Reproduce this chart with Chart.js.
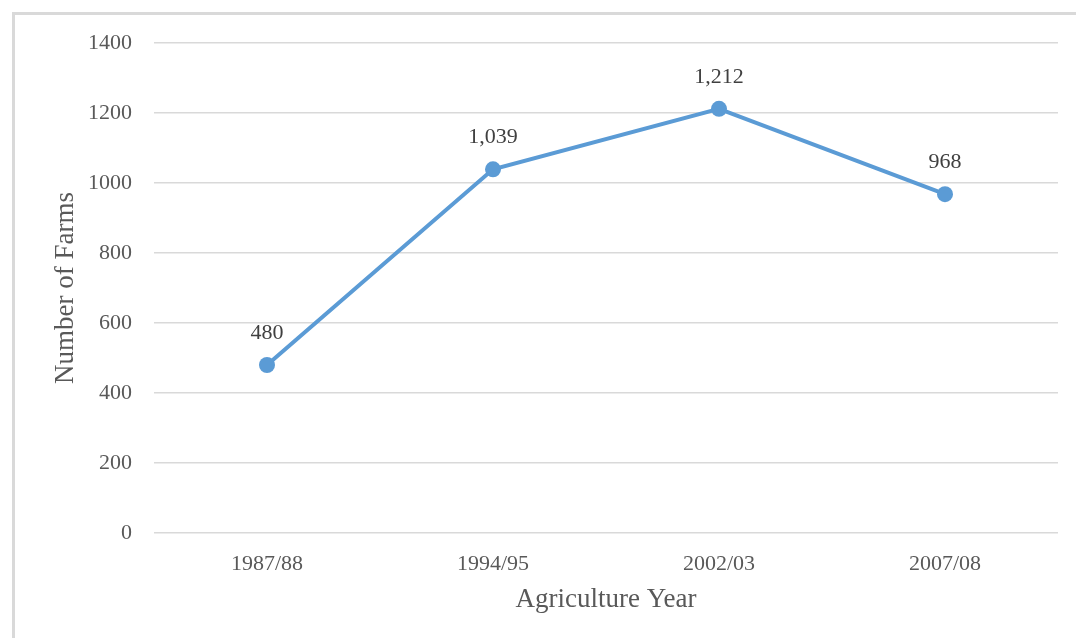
<!DOCTYPE html>
<html>
<head>
<meta charset="utf-8">
<script src="https://cdn.jsdelivr.net/npm/chart.js@4"></script>
<style>
  html, body { margin: 0; padding: 0; background: #fff; }
  #wrap { position: relative; width: 1076px; height: 638px; overflow: hidden; }
  #frame { position: absolute; left: 12px; top: 12px; right: -10px; bottom: -10px;
           border-top: 3px solid #d9d9d9; border-left: 3px solid #d9d9d9; }
  canvas { position: absolute; left: 0; top: 0; }
</style>
</head>
<body>
<div id="wrap">
  <div id="frame"></div>
  <canvas id="farmChart" width="1076" height="638"></canvas>
</div>
<script>
// agriculture years and number of farms
const years = ['1987/88', '1994/95', '2002/03', '2007/08'];
const farms = [480, 1039, 1212, 968];
const yTicks = [0, 200, 400, 600, 800, 1000, 1200, 1400];

const serif = 'Liberation Serif, "Times New Roman", serif';

// draws the value above each point
const pointLabels = {
    id: 'pointLabels',
    afterDatasetsDraw(chart) {
        const ctx = chart.ctx;
        const meta = chart.getDatasetMeta(0);
        ctx.save();
        ctx.font = '22px ' + serif;
        ctx.fillStyle = '#404040';
        ctx.textAlign = 'center';
        ctx.textBaseline = 'middle';
        meta.data.forEach((pt, i) => {
            ctx.fillText(farms[i].toLocaleString('en-US'), pt.x, pt.y - 32);
        });
        ctx.restore();
    }
};

new Chart(document.getElementById('farmChart'), {
    type: 'line',
    data: {
        labels: years,
        datasets: [{
            data: farms,
            borderColor: '#5b9bd5',
            backgroundColor: '#5b9bd5',
            borderWidth: 4,
            pointRadius: 8,
            pointBorderWidth: 0,
            tension: 0
        }]
    },
    options: {
        responsive: false,
        animation: false,
        layout: { padding: { left: 50, right: 18, top: 43, bottom: 22 } },
        plugins: { legend: { display: false }, tooltip: { enabled: false } },
        scales: {
            x: {
                offset: true,
                grid: { display: false, drawTicks: false },
                border: { display: false },
                ticks: { padding: 18, color: '#595959', font: { family: serif, size: 22 } },
                title: { display: true, text: 'Agriculture Year', color: '#595959',
                         font: { family: serif, size: 27 }, padding: { top: 10, bottom: 0 } },
                afterFit(scale) { scale.height = 83; }
            },
            y: {
                min: 0, max: 1400,
                afterBuildTicks(scale) { scale.ticks = yTicks.map(v => ({ value: v })); },
                grid: { color: '#d9d9d9', lineWidth: 1.5, drawTicks: false },
                border: { display: false },
                ticks: { padding: 22, color: '#595959', font: { family: serif, size: 22 },
                         callback: v => String(v) },
                title: { display: true, text: 'Number of Farms', color: '#595959',
                         font: { family: serif, size: 27 }, padding: { top: 0, bottom: 0 } },
                afterFit(scale) { scale.width = 104; }
            }
        }
    },
    plugins: [pointLabels]
});
</script>
</body>
</html>
